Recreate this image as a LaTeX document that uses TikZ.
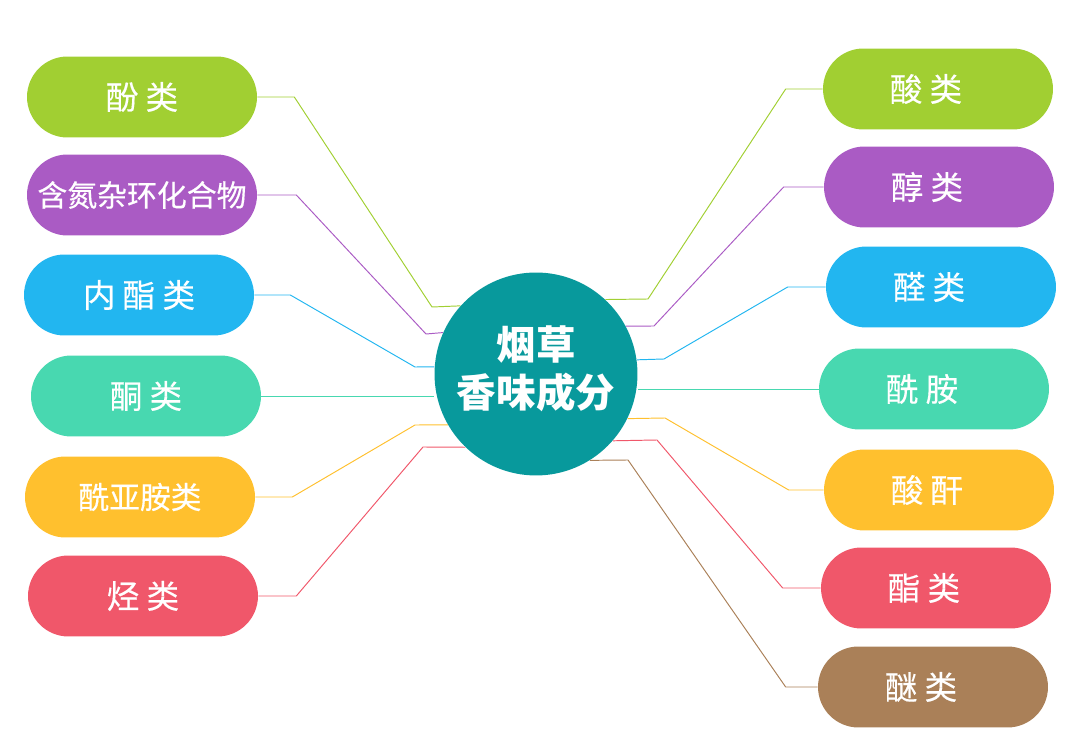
\documentclass[tikz,border=0pt]{standalone}
\usepackage{fontspec}
\setmainfont{Noto Sans CJK SC}
\newfontfamily\pillfont{Noto Sans CJK SC}[FakeBold=0.4]

\definecolor{cgreen}{HTML}{A1CF32}
\definecolor{cpurple}{HTML}{AA5BC4}
\definecolor{cblue}{HTML}{22B6F0}
\definecolor{cteal}{HTML}{48D8B0}
\definecolor{cyellow}{HTML}{FFC02E}
\definecolor{cred}{HTML}{F0576A}
\definecolor{cbrown}{HTML}{AA8058}
\definecolor{ccenter}{HTML}{08999C}

\tikzset{
  pill/.style={rectangle, rounded corners=0.81cm, minimum width=4.6cm,
    minimum height=1.62cm, inner sep=0pt, text=white,
    font=\pillfont\fontsize{18.5}{22}\selectfont},
  link/.style={line width=0.55pt}
}
% right-hand labels sit a little left of the box centre
\newcommand{\rt}[1]{#1\kern0.48cm}

\begin{document}
\begin{tikzpicture}[x=0.02cm,y=-0.02cm]

\useasboundingbox (0,0) rectangle (1080,749);

% Centre
\node[circle, fill=ccenter, minimum size=4.06cm, inner sep=0pt,
  label={[text=white, align=center, yshift=3pt,
  font=\bfseries\fontsize{22.5}{27.5}\selectfont]center:烟草\\香味成分}]
  (c) at (536,374) {};

% Left column
\node[pill, fill=cgreen] (fen) at (142,97) {酚 类};
\node[pill, fill=cpurple, font=\pillfont\fontsize{17}{20}\selectfont]
  (handan) at (142,195) {含氮杂环化合物};
\node[pill, fill=cblue] (neizhi) at (139,295) {内 酯 类};
\node[pill, fill=cteal] (tong) at (146,396) {酮 类};
\node[pill, fill=cyellow, font=\pillfont\fontsize{17.5}{20}\selectfont]
  (xianya) at (140,497) {酰亚胺类};
\node[pill, fill=cred] (ting) at (143,596) {烃 类};

% Right column
\node[pill, fill=cgreen] (suan) at (938,89) {\rt{酸 类}};
\node[pill, fill=cpurple] (chun) at (939,187) {\rt{醇 类}};
\node[pill, fill=cblue] (quan) at (941,287) {\rt{醛 类}};
\node[pill, fill=cteal] (xian) at (934,389) {\rt{酰 胺}};
\node[pill, fill=cyellow] (suangan) at (939,490) {\rt{酸 酐}};
\node[pill, fill=cred] (zhi) at (936,588) {\rt{酯 类}};
\node[pill, fill=cbrown] (mi) at (933,687) {\rt{醚 类}};

% Left links
\draw[link, cgreen] (fen.east) -- ++(37,0) -- (432,307) -- (c.138.7);
\draw[link, cpurple] (handan.east) -- ++(39,0) -- (426,334) -- (c.156.8);
\draw[link, cblue] (neizhi.east) -- ++(36,0) -- (415,367) -- (c.176);
\draw[link, cteal] (tong.east) -- (c.west |- tong.east);
\draw[link, cyellow] (xianya.east) -- ++(37,0) -- (415,425) -- (c.210.2);
\draw[link, cred] (ting.east) -- ++(38,0) -- (423,447) -- (c.226);

% Right links
\draw[link, cgreen] (suan.west) -- ++(-37,0) -- (648,299) -- (c.47.6);
\draw[link, cpurple] (chun.west) -- ++(-40,0) -- (654,326) -- (c.28.2);
\draw[link, cblue] (quan.west) -- ++(-38,0) -- (664,359) -- (c.8.5);
\draw[link, cteal] (xian.west) -- (c.east |- xian.west);
\draw[link, cyellow] (suangan.west) -- ++(-35,0) -- (665,418) -- (c.334.3);
\draw[link, cred] (zhi.west) -- ++(-38,0) -- (657,440) -- (c.319.4);
\draw[link, cbrown] (mi.west) -- ++(-32,0) -- (628,460) -- (c.302.1);

\end{tikzpicture}
\end{document}
